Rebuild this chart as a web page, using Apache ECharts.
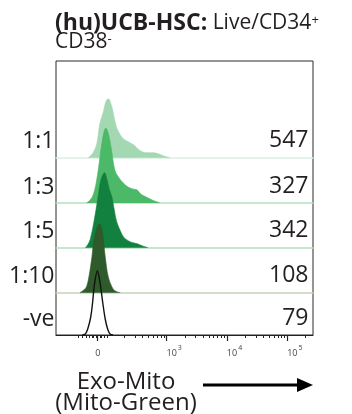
<!DOCTYPE html>
<html><head><meta charset="utf-8">
<script src="https://cdn.jsdelivr.net/npm/echarts@6/dist/echarts.min.js"></script>
<style>html,body{margin:0;padding:0;background:#fff}#c{width:352px;height:414px}</style>
</head><body><div id="c"></div>
<script>
// ---- data (x in decade units of the biexponential axis, y = relative count) ----
const rowLabels = ['1:1', '1:3', '1:5', '1:10', '-ve'];
const eventCounts = ['547', '327', '342', '108', '79'];
const tickLabels = ['0', '10^3', '10^4', '10^5'];
const tickValues = [1.856, 3, 4, 5];
const linearTicks = [1.53, 1.60, 1.66, 1.71, 1.76, 1.79, 1.83, 1.856, 1.89, 1.92, 1.96, 2.01];

const x_1_1 = [1.70, 1.78, 1.84, 1.89, 1.95, 1.99, 2.03, 2.09, 2.13, 2.17, 2.23, 2.28, 2.36, 2.45, 2.52, 2.59, 2.66, 2.72, 2.78, 2.86, 2.94, 3.05];
const y_1_1 = [0, 5, 14, 34, 46, 56, 59, 51, 40, 30, 23, 19, 16, 13, 9, 6, 5, 5, 5, 4, 2, 0];
const x_1_3 = [1.67, 1.73, 1.78, 1.83, 1.88, 1.93, 1.99, 2.03, 2.08, 2.14, 2.21, 2.28, 2.36, 2.44, 2.51, 2.57, 2.66, 2.76, 2.89];
const y_1_3 = [0, 3, 8, 20, 40, 62, 75, 70, 55, 33, 25, 20, 16, 14, 13, 9, 6, 3, 0];
const x_1_5 = [1.65, 1.69, 1.73, 1.79, 1.86, 1.91, 1.97, 2.01, 2.05, 2.09, 2.13, 2.17, 2.23, 2.28, 2.36, 2.44, 2.51, 2.59, 2.69];
const y_1_5 = [0, 3, 8, 25, 50, 68, 75, 68, 58, 51, 38, 26, 17, 11, 7, 5, 4, 2, 0];
const x_1_10 = [1.56, 1.63, 1.67, 1.71, 1.76, 1.79, 1.84, 1.88, 1.93, 1.98, 2.03, 2.09, 2.14, 2.23];
const y_1_10 = [0, 3, 6, 16, 36, 52, 64, 69, 62, 36, 16, 6, 2, 0];
const x_neg = [1.60, 1.65, 1.69, 1.74, 1.77, 1.80, 1.85, 1.89, 1.94, 1.98, 2.02, 2.06, 2.11];
const y_neg = [0, 1, 6, 18, 32, 50, 64, 54, 32, 16, 6, 1, 0];

// ---- layout / style ----
const FONT = "'Open Sans', sans-serif";
const X_MIN = 1.164, X_MAX = 5.426;
const baselines = [157.7, 203, 247.7, 292.7, 335];
const fillColors = ['#a3d8b3', '#4cb968', '#12803f', '#2f5a2b', null];
const baseColors = ['#d9efe0', '#b3dfbf', '#b3dfbf', '#c3d3b6', '#222'];
const xsList = [x_1_1, x_1_3, x_1_5, x_1_10, x_neg];
const ysList = [y_1_1, y_1_3, y_1_5, y_1_10, y_neg];

const minorTicks = linearTicks.slice();
for (let d = 2; d <= 4; d++) for (let k = 2; k <= 9; k++) minorTicks.push(d + Math.log10(k));
minorTicks.push(5 + Math.log10(2));

const grids = baselines.map(b => ({ left: 56, right: 39, top: b - 100, height: 100 }));
grids.push({ left: 56, right: 39, top: 61, height: 274, show: true, borderColor: '#2b2b2b', borderWidth: 1, backgroundColor: 'transparent' });

const xAxes = baselines.map((b, i) => {
  const last = i === baselines.length - 1;
  return {
    gridIndex: i, type: 'value', min: X_MIN, max: X_MAX,
    axisLine: { show: true, onZero: false, lineStyle: { color: baseColors[i], width: last ? 1 : 1.5 } },
    axisTick: last ? { show: true, customValues: tickValues, length: 6, lineStyle: { color: '#222', width: 1.2 } } : { show: false },
    axisLabel: last ? {
      show: true, customValues: tickValues, margin: 9, color: '#444',
      formatter: v => {
        const idx = tickValues.findIndex(t => Math.abs(t - v) < 1e-6);
        const s = tickLabels[idx] || '';
        if (s.indexOf('^') < 0) return '{b|' + s + '}';
        const p = s.split('^');
        return '{sp|}{b|' + p[0] + '}{s|' + p[1] + '}';
      },
      rich: {
        sp: { width: 15, fontSize: 9, lineHeight: 14 },
        b: { fontSize: 9, fontFamily: FONT, color: '#444', lineHeight: 14, verticalAlign: 'bottom' },
        s: { fontSize: 7, fontFamily: FONT, color: '#444', lineHeight: 14, verticalAlign: 'top', padding: [0, 0, 0, 1] }
      }
    } : { show: false },
    splitLine: { show: false }
  };
});
xAxes.push({
  gridIndex: 5, type: 'value', min: X_MIN, max: X_MAX,
  axisLine: { show: false },
  axisTick: { show: true, customValues: minorTicks, length: 3, lineStyle: { color: '#222', width: 1 } },
  axisLabel: { show: false }, splitLine: { show: false }
});
const yAxes = grids.map((g, i) => ({ gridIndex: i, type: 'value', min: 0, max: 100, show: false }));

const series = xsList.map((xs, i) => {
  const data = xs.map((x, j) => [x, ysList[i][j]]);
  const isNeg = fillColors[i] === null;
  return {
    type: 'line', xAxisIndex: i, yAxisIndex: i, data, showSymbol: false, smooth: 0.35,
    z: 3 + i, silent: true, animation: false,
    lineStyle: isNeg ? { color: '#111', width: 1.4 } : { color: fillColors[i], width: 0.6 },
    areaStyle: isNeg ? undefined : { color: fillColors[i], opacity: 1 }
  };
});

const graphics = [];
graphics.push({
  type: 'text', left: 55, top: 12,
  style: {
    text: '{b|(hu)UCB-HSC:}{n| Live/CD34}{s|+}\n{n|CD38}{s|-}',
    rich: {
      b: { fontFamily: FONT, fontWeight: 'bold', fontSize: 23, lineHeight: 19, fill: '#231f20' },
      n: { fontFamily: FONT, fontSize: 21, lineHeight: 19, fill: '#231f20' },
      s: { fontFamily: FONT, fontSize: 13, lineHeight: 19, fill: '#231f20', verticalAlign: 'top' }
    }
  }
});
rowLabels.forEach((t, i) => {
  graphics.push({ type: 'text', x: 54.5, y: baselines[i] - 16, style: { text: t, font: '23px ' + FONT, fill: '#231f20', align: 'right', verticalAlign: 'middle' } });
  graphics.push({ type: 'text', x: 308.5, y: baselines[i] - 17, style: { text: eventCounts[i], font: '23px ' + FONT, fill: '#231f20', align: 'right', verticalAlign: 'middle' } });
});
graphics.push({ type: 'text', x: 126, y: 393, style: { text: 'Exo-Mito\n(Mito-Green)', font: '24px ' + FONT, lineHeight: 21, fill: '#231f20', align: 'center', verticalAlign: 'middle' } });
graphics.push({ type: 'line', shape: { x1: 203, y1: 385, x2: 299, y2: 385 }, style: { stroke: '#000', lineWidth: 3 } });
graphics.push({ type: 'polygon', shape: { points: [[297, 378], [313, 385], [297, 392]] }, style: { fill: '#000' } });

const chart = echarts.init(document.getElementById('c'), null, { renderer: 'canvas' });
chart.setOption({
  animation: false,
  grid: grids, xAxis: xAxes, yAxis: yAxes, series, graphic: graphics
});
</script></body></html>
